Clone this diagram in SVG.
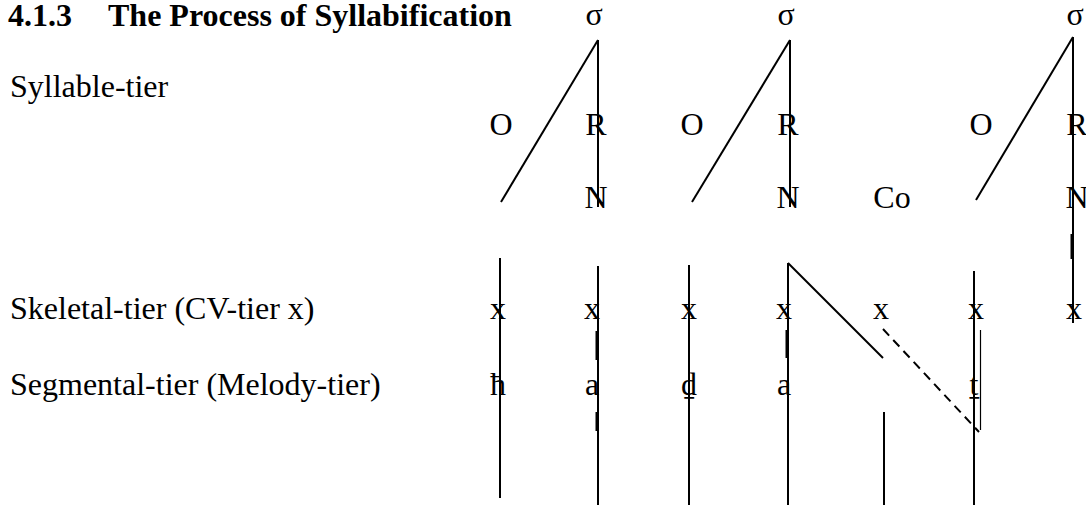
<svg xmlns="http://www.w3.org/2000/svg" width="1086" height="508" viewBox="0 0 1086 508">
  <style>
    text { font-family: "Liberation Serif", "DejaVu Serif", "Times New Roman", serif; font-size: 32px; fill: #000; }
    .b { font-weight: bold; }
    .c { text-anchor: middle; }
    .ln { stroke: #000; stroke-width: 2; fill: none; }
    .thk { stroke: #000; stroke-width: 3; fill: none; }
    .thin { stroke: #000; stroke-width: 1.2; fill: none; }
    .dash { stroke: #000; stroke-width: 2; fill: none; stroke-dasharray: 9 6; }
  </style>
  <rect width="1086" height="508" fill="#fff"/>

  <g id="title">
    <text class="b" x="8" y="26">4.1.3</text>
    <text class="b" x="108" y="26">The Process of Syllabification</text>
  </g>
  <g id="labels">
    <text x="10" y="97">Syllable-tier</text>
    <text x="10" y="319">Skeletal-tier (CV-tier x)</text>
    <text x="10" y="395">Segmental-tier (Melody-tier)</text>
  </g>

  <g id="connectors">
    <!-- syllable 1 -->
    <line class="ln" x1="598" y1="40" x2="501" y2="202"/>
    <line class="ln" x1="598" y1="40" x2="598" y2="207"/>
    <!-- syllable 2 -->
    <line class="ln" x1="790" y1="40" x2="692" y2="202"/>
    <line class="ln" x1="790" y1="40" x2="790" y2="207"/>
    <!-- syllable 3 -->
    <line class="ln" x1="1073" y1="37" x2="976" y2="200"/>
    <line class="ln" x1="1073" y1="37" x2="1073" y2="323"/>
    <line class="thk" x1="1072" y1="234" x2="1072" y2="259"/>
    <!-- skeletal / segmental links -->
    <line class="ln" x1="500" y1="258" x2="500" y2="498"/>
    <line class="ln" x1="598" y1="266" x2="598" y2="505"/>
    <line class="thk" x1="597" y1="331" x2="597" y2="360"/>
    <line class="thk" x1="597" y1="412" x2="597" y2="431"/>
    <line class="ln" x1="689" y1="265" x2="689" y2="505"/>
    <line class="ln" x1="788" y1="263" x2="788" y2="505"/>
    <line class="thk" x1="787" y1="330" x2="787" y2="358"/>
    <line class="ln" x1="788" y1="263" x2="883" y2="358"/>
    <line class="ln" x1="884" y1="412" x2="884" y2="505"/>
    <line class="dash" x1="883" y1="329" x2="979" y2="432"/>
    <line class="ln" x1="974" y1="271" x2="974" y2="505"/>
    <line class="thin" x1="980.5" y1="330" x2="980.5" y2="430"/>
  </g>

  <g id="sigma1"><text class="c" x="594" y="25">σ</text></g>
  <g id="sigma2"><text class="c" x="786" y="25">σ</text></g>
  <g id="sigma3"><text class="c" x="1075" y="25">σ</text></g>

  <g id="O1"><text class="c" x="501" y="135">O</text></g>
  <g id="R1"><text class="c" x="596" y="135">R</text></g>
  <g id="O2"><text class="c" x="692" y="135">O</text></g>
  <g id="R2"><text class="c" x="788" y="135">R</text></g>
  <g id="O3"><text class="c" x="981" y="135">O</text></g>
  <g id="R3"><text class="c" x="1077" y="135">R</text></g>

  <g id="N1"><text class="c" x="596" y="208">N</text></g>
  <g id="N2"><text class="c" x="788" y="208">N</text></g>
  <g id="Co"><text class="c" x="892" y="208">Co</text></g>
  <g id="N3"><text class="c" x="1077" y="208">N</text></g>

  <g id="x1"><text class="c" x="498" y="319">x</text></g>
  <g id="x2"><text class="c" x="592" y="319">x</text></g>
  <g id="x3"><text class="c" x="689" y="319">x</text></g>
  <g id="x4"><text class="c" x="784" y="319">x</text></g>
  <g id="x5"><text class="c" x="881" y="319">x</text></g>
  <g id="x6"><text class="c" x="976" y="319">x</text></g>
  <g id="x7"><text class="c" x="1074" y="319">x</text></g>

  <g id="seg1"><text class="c" x="498" y="395">ħ</text></g>
  <g id="seg2"><text class="c" x="592" y="395">a</text></g>
  <g id="seg3"><text class="c" x="689" y="395">ḏ</text></g>
  <g id="seg4"><text class="c" x="784" y="395">a</text></g>
  <g id="seg5"><text class="c" x="974" y="395">ṯ</text></g>
</svg>
